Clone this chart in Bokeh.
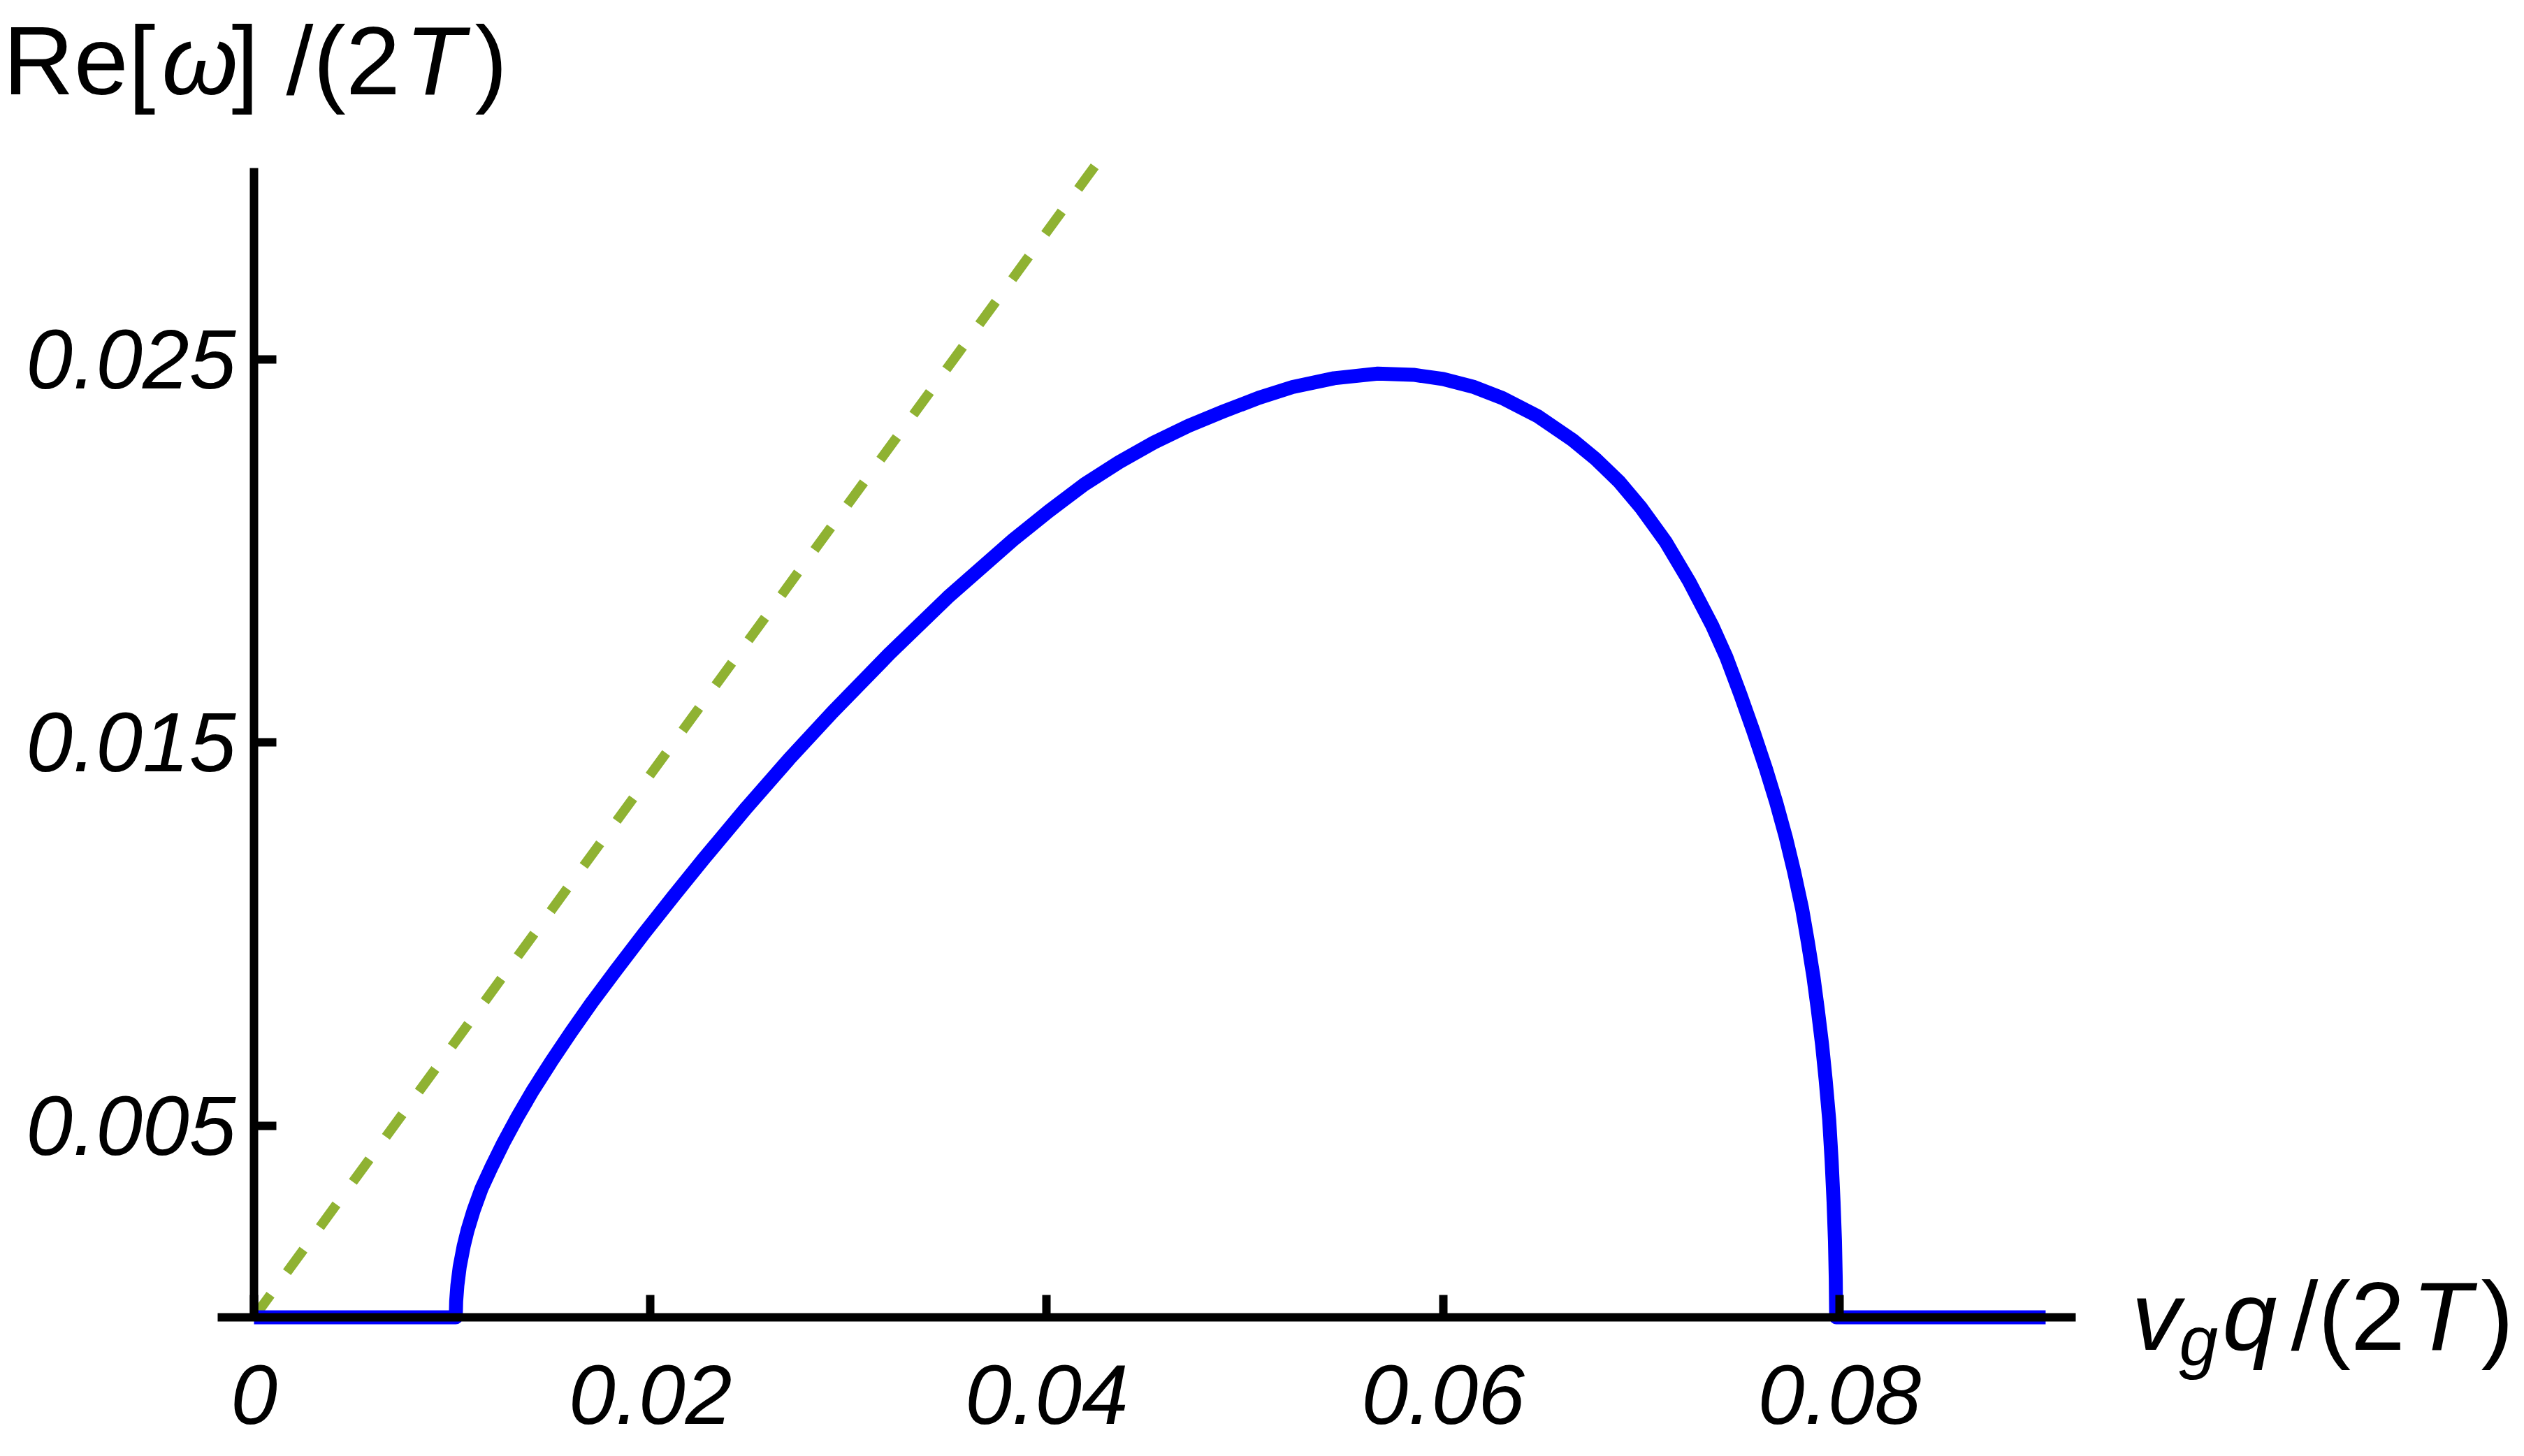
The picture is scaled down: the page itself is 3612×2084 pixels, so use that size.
from bokeh.plotting import figure
from bokeh.models import Range1d, FixedTicker, Label, NumeralTickFormatter
from bokeh.embed import file_html
from bokeh.resources import INLINE

# ---- data ----
blue_x = [0.0, 0.01018, 0.01020, 0.01026, 0.01038, 0.01058, 0.01078, 0.01108, 0.01148,
          0.01198, 0.01258, 0.01328, 0.01408, 0.01498, 0.01598, 0.01708, 0.01828,
          0.01968, 0.02118, 0.02268, 0.02488, 0.02698, 0.0292, 0.0321, 0.0350, 0.0383,
          0.0401, 0.0419, 0.04365, 0.0454, 0.04715, 0.0489, 0.0507, 0.0524, 0.0545,
          0.0567, 0.0585, 0.0600, 0.0615, 0.0630, 0.0648, 0.06653, 0.0677, 0.06888,
          0.0700, 0.07123, 0.0724, 0.07358, 0.0743, 0.0750, 0.07565, 0.07629, 0.0768,
          0.07729, 0.0777, 0.07811, 0.0784, 0.07868, 0.0789, 0.07912, 0.0793, 0.07948,
          0.0796, 0.0797, 0.07977, 0.07981, 0.07983, 0.0904]
blue_y = [0.0, 0.0, 0.00042, 0.00083, 0.00132, 0.00186, 0.00228, 0.00279, 0.00336,
          0.00392, 0.00455, 0.00522, 0.00593, 0.00666, 0.00743, 0.00824, 0.00907,
          0.01002, 0.01100, 0.01196, 0.01332, 0.01456, 0.01580, 0.01734, 0.01879, 0.02029,
          0.02104, 0.02174, 0.02232, 0.02283, 0.02327, 0.02364, 0.02400, 0.02428, 0.02451,
          0.02463, 0.02460, 0.02449, 0.02429, 0.02399, 0.02351, 0.02290, 0.02240, 0.02181,
          0.02112, 0.02024, 0.01922, 0.01805, 0.01722, 0.01625, 0.01530, 0.01431, 0.01345,
          0.01253, 0.01165, 0.01067, 0.00980, 0.00890, 0.00805, 0.00712, 0.00620, 0.00515,
          0.00410, 0.00300, 0.00200, 0.00100, 0.0, 0.0]
green_x = [0.0, 0.0425]
green_y = [0.0, 0.0301]

x_ticks = [0, 0.02, 0.04, 0.06, 0.08]
x_tick_labels = ["0", "0.02", "0.04", "0.06", "0.08"]
y_ticks = [0.005, 0.015, 0.025]
y_tick_labels = ["0.005", "0.015", "0.025"]

# visible axis extents
XA0, XA1 = -0.00183, 0.09192
YA0, YA1 = 0.0, 0.0300
# plot frame covers the whole canvas
X_START, X_END = -0.012799, 0.113990
Y_START, Y_END = -0.003337, 0.034373

p = figure(width=3596, height=2068,
           x_range=Range1d(X_START, X_END), y_range=Range1d(Y_START, Y_END),
           output_backend="svg", toolbar_location=None, title=None,
           min_border_left=0, min_border_right=0,
           min_border_top=0, min_border_bottom=0)
p.grid.visible = False
p.outline_line_color = None
p.background_fill_color = "white"
p.border_fill_color = "white"

p.line(green_x, green_y, line_color="#8fb232", line_width=14, line_dash="40 40")
p.line(blue_x, blue_y, line_color="#0000ff", line_width=20, line_join="round")

for ax in (p.xaxis[0], p.yaxis[0]):
    ax.fixed_location = 0
    ax.axis_line_width = 12
    ax.axis_line_color = "black"
    ax.major_tick_line_width = 12
    ax.major_tick_line_color = "black"
    ax.major_tick_in = 32
    ax.major_tick_out = 0
    ax.minor_tick_in = 0
    ax.minor_tick_out = 0
    ax.major_label_text_font = "Liberation Sans"
    ax.major_label_text_font_style = "italic"
    ax.major_label_text_font_size = "120px"
    ax.major_label_text_color = "black"

xa = p.xaxis[0]
xa.ticker = FixedTicker(ticks=x_ticks)
xa.formatter = NumeralTickFormatter(format="0.[00]")
xa.major_label_overrides = {t: s for t, s in zip(x_ticks, x_tick_labels)}
xa.major_label_standoff = 69
xa.bounds = (XA0, XA1)

ya = p.yaxis[0]
ya.ticker = FixedTicker(ticks=y_ticks)
ya.formatter = NumeralTickFormatter(format="0.000")
ya.major_label_overrides = {t: s for t, s in zip(y_ticks, y_tick_labels)}
ya.major_label_standoff = 26
ya.bounds = (YA0, YA1)

# axis titles built from upright / italic pieces
ylab_pieces = [("Re[", "normal", -307), ("ω", "italic", -80), ("] /(2", "normal", 20),
               ("T", "italic", 268), (")", "normal", 368)]
for txt, style, dx in ylab_pieces:
    p.add_layout(Label(x=XA0, y=YA1, x_units="data", y_units="data",
                       x_offset=dx, y_offset=154, text=txt,
                       text_font="Liberation Sans", text_font_style=style,
                       text_font_size="140px", text_baseline="alphabetic",
                       text_align="left", text_color="black"))

xlab_pieces = [("v", "italic", "140px", 80, 2), ("g", "italic", "100px", 148, -33),
               ("q", "italic", "140px", 210, 2), ("/(2", "normal", "140px", 308, 2),
               ("T", "italic", "140px", 481, 2), (")", "normal", "140px", 580, 2)]
for txt, style, size, dx, dy in xlab_pieces:
    p.add_layout(Label(x=XA1, y=0, x_units="data", y_units="data",
                       x_offset=dx, y_offset=dy, text=txt,
                       text_font="Liberation Sans", text_font_style=style,
                       text_font_size=size, text_baseline="alphabetic",
                       text_align="left", text_color="black"))

open("out.html", "w").write(file_html(p, INLINE))
